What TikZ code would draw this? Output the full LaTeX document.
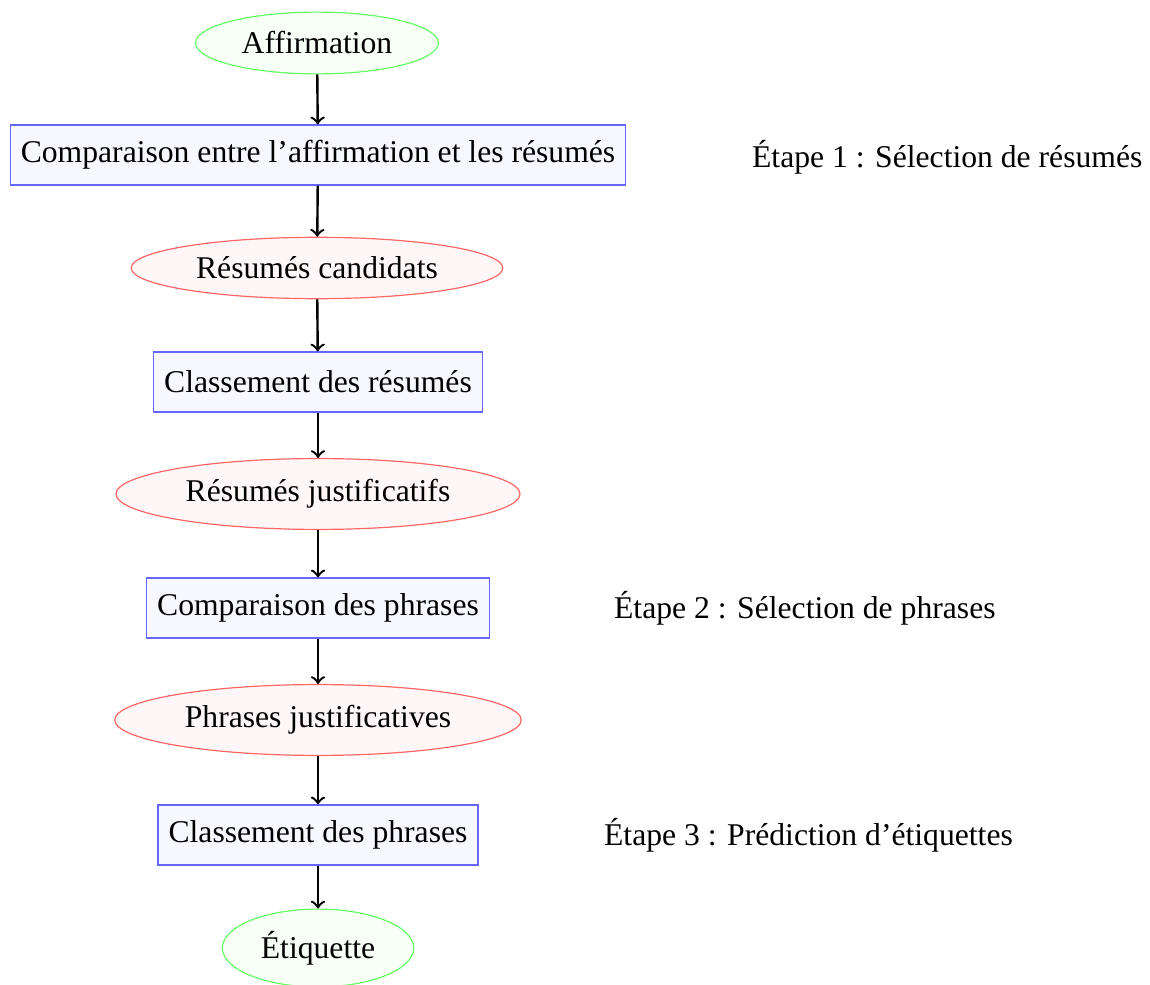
\documentclass[tikz,border=0pt]{standalone}
\usepackage{fontspec}
\setmainfont{Liberation Serif}
\usetikzlibrary{shapes.geometric}
\begin{document}
\fontsize{10.55}{13}\selectfont
\begin{tikzpicture}[x=0.33333pt, y=-0.33333pt,
  font=\fontsize{10.55}{13}\selectfont,
  data/.style={ellipse, draw=red!60, fill=red!3},
  endpoint/.style={ellipse, draw=green!60, fill=green!3},
  process/.style={rectangle, draw=blue!60, fill=blue!3, minimum height=20pt},
  stage/.style={anchor=west},
  flow/.style={->, thick}]
\useasboundingbox (0,0) rectangle (1150,985);
% main pipeline
\node[endpoint] (aff) at (317,43) {Affirmation};
\node[process]  (cmp) at (318,155) {Comparaison entre l'affirmation et les résumés};
\node[data]     (cand) at (317,268) {Résumés candidats};
\node[process]  (rank) at (318,382) {Classement des résumés};
\node[data]     (just) at (318,494) {Résumés justificatifs};
\node[process]  (sent) at (318,608) {Comparaison des phrases};
\node[data]     (phr) at (318,720) {Phrases justificatives};
\node[process]  (cls) at (318,835) {Classement des phrases};
\node[endpoint] (lab) at (318,948) {Étiquette};
% stage labels
\node[stage] (s1) at (741,157) {Étape 1 : Sélection de résumés};
\node[stage] (s2) at (603,608) {Étape 2 : Sélection de phrases};
\node[stage] (s3) at (593,835) {Étape 3 : Prédiction d'étiquettes};
% connectors
\foreach \a/\b in {aff/cmp, cmp/cand, cand/rank, rank/just, just/sent, sent/phr, phr/cls, cls/lab}
  \draw[flow] (\a) -- (\b);
\end{tikzpicture}
\end{document}
